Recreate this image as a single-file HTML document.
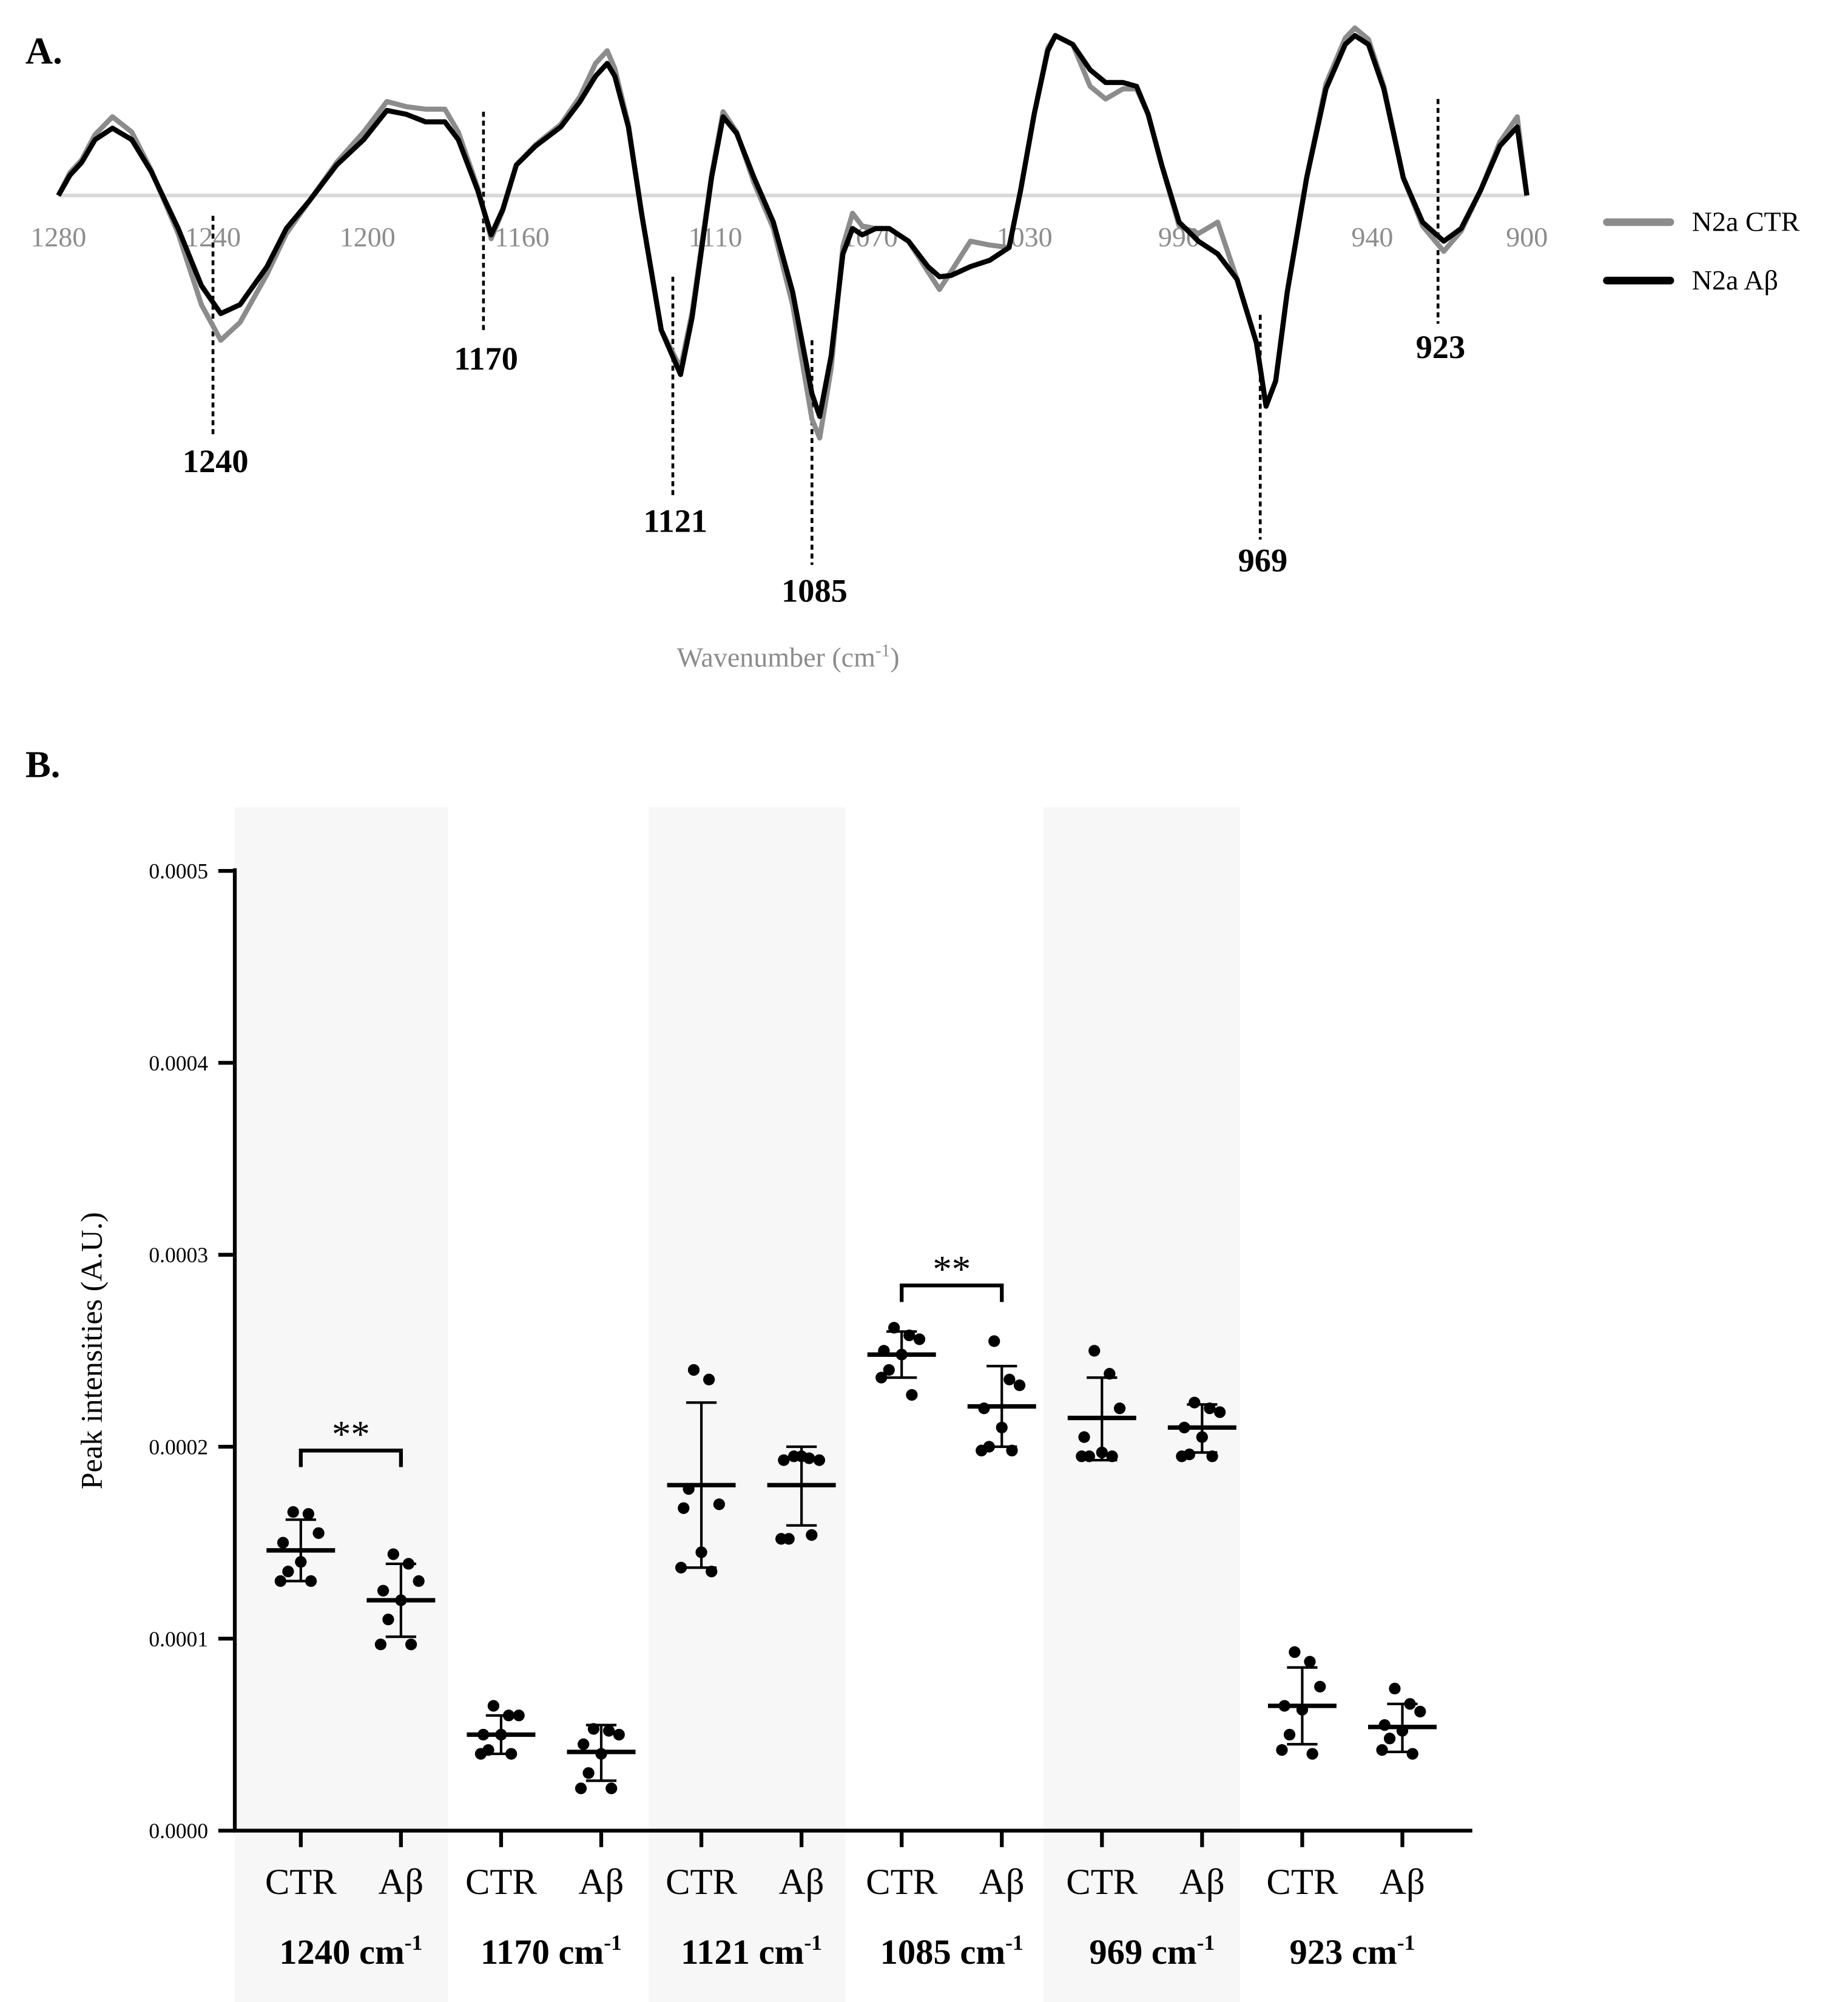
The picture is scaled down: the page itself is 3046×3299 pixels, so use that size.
<!DOCTYPE html>
<html><head><meta charset="utf-8"><style>html,body{margin:0;padding:0;background:#fff}svg{display:block}text{font-family:"Liberation Serif",serif}</style></head>
<body>
<svg id="fig" xmlns="http://www.w3.org/2000/svg" width="3046" height="3299" viewBox="0 0 1456 1577" preserveAspectRatio="none">
<text x="20" y="50" font-size="30" font-weight="bold">A.</text>
<text x="20" y="612" font-size="30" font-weight="bold">B.</text>
<g id="topG"></g>
<g id="botG"></g>
</svg>
<script>
// ---- Panel A data ----
const wavenumbers=[1280,1277,1274,1270.5,1266,1261,1256,1249,1243,1238,1233,1226,1221,1215,1208,1201,1195,1190,1185,1180,1176.5,1171.5,1168,1165,1161.5,1156.5,1150,1145,1141,1138,1136,1132.5,1129,1124,1119,1116,1111,1108,1104.5,1100,1095,1090,1085,1083,1080,1077,1074.5,1072,1068.5,1065,1060,1055,1052,1049,1044,1039,1034,1031,1027.5,1024,1022,1017.5,1013,1009,1004.5,1001,998,994.5,990,985,980,975,970,967.5,965,962,957,952,947,944.5,941,937,932,927,921.5,917,912,907,902.5,900];
const abValues=[0,16,26,44,53,44,19,-26,-71,-93,-86,-56,-26,-4,24,44,67,64,58,58,44,4,-31,-11,24,39,54,74,94,104,94,54,-16,-106,-141,-96,14,62,49,14,-21,-76,-156,-174,-126,-46,-26,-31,-26,-26,-36,-56,-64,-63,-56,-51,-41,4,64,114,126,119,99,89,89,86,64,24,-21,-36,-46,-66,-116,-166,-146,-76,14,84,119,126,119,84,14,-21,-36,-26,4,39,54,0];
const ctrValues=[0,18,28,48,62,50,20,-30,-86,-114,-100,-62,-30,-4,26,50,74,70,68,68,50,6,-34,-12,24,40,56,78,104,114,100,56,-16,-106,-136,-92,16,66,50,10,-26,-86,-176,-191,-136,-40,-14,-24,-26,-26,-36,-60,-74,-60,-36,-39,-41,4,64,116,126,119,86,76,84,84,64,24,-24,-30,-21,-66,-116,-166,-146,-76,14,88,124,132,123,86,14,-24,-44,-28,4,42,62,0];
const topTicks=[1280,1240,1200,1160,1110,1070,1030,990,940,900];
const peakMarks=[1240,1170,1121,1085,969,923];
const peakLineTop=[170,88,218,268,248,78];
const peakLineBottom=[345,262,390,445,425,255];
const peakLabelY=[372,291,419,474,450,282];

// ---- Panel B data ----
const groupPeaks=["1240","1170","1121","1085","969","923"];
const groupNames=["CTR","Aβ"];
const groupMeans=[0.000146,0.000120,0.000050,0.000041,0.000180,0.000180,0.000248,0.000221,0.000215,0.000210,0.000065,0.000054];
const groupErrLow=[0.000130,0.000101,0.000040,0.000026,0.000137,0.000159,0.000236,0.000200,0.000193,0.000197,0.000045,0.000041];
const groupErrHigh=[0.000162,0.000139,0.000060,0.000055,0.000223,0.000200,0.000260,0.000242,0.000236,0.000222,0.000085,0.000066];
const g1=[0.000166,0.000165,0.000155,0.000150,0.000140,0.000135,0.000130,0.000130];
const g2=[0.000144,0.000139,0.000130,0.000125,0.000120,0.000110,0.000097,0.000097];
const g3=[0.000065,0.000060,0.000060,0.000050,0.000050,0.000042,0.000040,0.000040];
const g4=[0.000053,0.000052,0.000050,0.000045,0.000040,0.000030,0.000022,0.000022];
const g5=[0.000240,0.000235,0.000170,0.000168,0.000145,0.000178,0.000137,0.000135];
const g6=[0.000195,0.000194,0.000193,0.000193,0.000195,0.000152,0.000152,0.000154];
const g7=[0.000262,0.000258,0.000256,0.000250,0.000248,0.000240,0.000236,0.000227];
const g8=[0.000255,0.000235,0.000232,0.000220,0.000210,0.000200,0.000198,0.000198];
const g9=[0.000250,0.000238,0.000220,0.000205,0.000197,0.000195,0.000195,0.000195];
const g10=[0.000223,0.000220,0.000218,0.000210,0.000205,0.000196,0.000195,0.000195];
const g11=[0.000093,0.000088,0.000075,0.000065,0.000063,0.000050,0.000042,0.000040];
const g12=[0.000074,0.000066,0.000062,0.000055,0.000052,0.000048,0.000042,0.000040];
const groupPoints=[g1,g2,g3,g4,g5,g6,g7,g8,g9,g10,g11,g12];
const yTicks=[0,0.0001,0.0002,0.0003,0.0004,0.0005];
const yTickLabels=["0.0000","0.0001","0.0002","0.0003","0.0004","0.0005"];
const sigPairs=[[0,1,0.000198],[6,7,0.000284]];

const NS="http://www.w3.org/2000/svg";
function mk(tag,parent,attrs,txt){const e=document.createElementNS(NS,tag);for(const k in attrs)e.setAttribute(k,attrs[k]);if(txt!==undefined)e.textContent=txt;parent.appendChild(e);return e;}

// Panel A
const topG=document.getElementById('topG');
const xA=w=>46+(1280-w)*(1157/380);
const yA=v=>154-v;
let e=mk('line',topG,{x1:46,x2:1203,y1:154,y2:154,stroke:'#d9d9d9','stroke-width':3});


topTicks.forEach(t=>{const tx=mk('text',topG,{x:xA(t),y:194,'font-size':22,fill:'#8c8c8c','text-anchor':'middle'},String(t));

});
peakMarks.forEach((p,i)=>{const l=mk('line',topG,{x1:xA(p),x2:xA(p),y1:peakLineTop[i],y2:peakLineBottom[i],stroke:'#000','stroke-width':2.2,'stroke-dasharray':'4,3'});


const t=mk('text',topG,{x:xA(p)+2,y:peakLabelY[i],'font-size':26,'font-weight':'bold','text-anchor':'middle'},String(p));

});
function path(vals){return vals.map((v,i)=>(i?'L':'M')+xA(wavenumbers[i]).toFixed(1)+' '+yA(v).toFixed(1)).join(' ');}
e=mk('path',topG,{d:path(ctrValues),fill:'none',stroke:'#8c8c8c','stroke-width':4,'stroke-linejoin':'round'});


e=mk('path',topG,{d:path(abValues),fill:'none',stroke:'#000','stroke-width':4,'stroke-linejoin':'round'});


e=mk('text',topG,{x:621,y:525,'font-size':22,fill:'#8c8c8c','text-anchor':'middle'});
e.innerHTML='Wavenumber (cm<tspan dy="-8" font-size="14">-1</tspan><tspan dy="8">)</tspan>';


[['#8c8c8c','N2a CTR',175],['#000','N2a Aβ',221]].forEach(([c,n,y])=>{const g=mk('g',topG,{});


mk('line',g,{x1:1266,x2:1316,y1:y,y2:y,stroke:c,'stroke-width':6,'stroke-linecap':'round'});
mk('text',g,{x:1333,y:y+7,'font-size':22},n);});

// Panel B
const botG=document.getElementById('botG');
const yB=v=>1442-v*(756/0.0005);
const xB=i=>237+i*78.9;
[[185,353],[511,666],[822,977]].forEach(([a,b])=>{const r=mk('rect',botG,{x:a,y:636,width:b-a,height:941,fill:'#f7f7f7'});

});
e=mk('line',botG,{x1:185,x2:185,y1:684,y2:1443,stroke:'#000','stroke-width':3});


e=mk('line',botG,{x1:184,x2:1160,y1:1442,y2:1442,stroke:'#000','stroke-width':3});


yTicks.forEach((t,i)=>{const l=mk('line',botG,{x1:172,x2:185,y1:yB(t),y2:yB(t),stroke:'#000','stroke-width':3});


const tx=mk('text',botG,{x:164,y:yB(t)+6,'font-size':17,'text-anchor':'end'},yTickLabels[i]);

});
e=mk('text',botG,{x:0,y:0,'font-size':24,'text-anchor':'middle',transform:'translate(80,1064) rotate(-90)'},'Peak intensities (A.U.)');


const jit=[-6,6,14,-14,0,-10,-16,8];
groupMeans.forEach((m,i)=>{const x=xB(i);const g=mk('g',botG,{});


mk('line',g,{x1:x,x2:x,y1:1442,y2:1455,stroke:'#000','stroke-width':3});
mk('line',g,{x1:x,x2:x,y1:yB(groupErrLow[i]),y2:yB(groupErrHigh[i]),stroke:'#000','stroke-width':2});
mk('line',g,{x1:x-12,x2:x+12,y1:yB(groupErrLow[i]),y2:yB(groupErrLow[i]),stroke:'#000','stroke-width':2});
mk('line',g,{x1:x-12,x2:x+12,y1:yB(groupErrHigh[i]),y2:yB(groupErrHigh[i]),stroke:'#000','stroke-width':2});
mk('line',g,{x1:x-27,x2:x+27,y1:yB(m),y2:yB(m),stroke:'#000','stroke-width':3.5});
groupPoints[i].forEach((v,k)=>{const c=mk('circle',g,{cx:x+jit[k],cy:yB(v),r:4.6,fill:'#000'});

});
mk('text',g,{x:x,y:1492,'font-size':29,'text-anchor':'middle'},groupNames[i%2]);});
groupPeaks.forEach((p,j)=>{const t=mk('text',botG,{x:(xB(2*j)+xB(2*j+1))/2,y:1547,'font-size':28,'font-weight':'bold','text-anchor':'middle'});
t.innerHTML=p+' cm<tspan dy="-11" font-size="17">-1</tspan>';

});
sigPairs.forEach(([a,b,v])=>{const g=mk('g',botG,{});


const y=yB(v);mk('path',g,{d:`M${xB(a)} ${y+13} V${y} H${xB(b)} V${y+13}`,fill:'none',stroke:'#000','stroke-width':3});
mk('text',g,{x:(xB(a)+xB(b))/2,y:y-3,'font-size':30,'text-anchor':'middle'},'**');});
</script>
</body></html>
